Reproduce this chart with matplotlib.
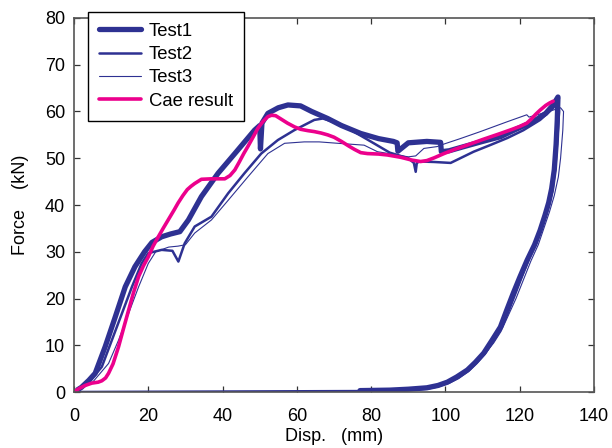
import matplotlib
matplotlib.use("Agg")
import matplotlib.pyplot as plt

plt.rcParams['font.family'] = ['Liberation Sans', 'DejaVu Sans']

# ---- data ----
test1_x = [1, 2, 4, 5.7, 8.4, 11, 13.8, 16.4, 19, 21, 23.6, 26, 28.5, 30.8, 34.3, 38.8, 43.3, 48.6, 50, 50.2,
           50.6, 52.2, 55, 57.6, 61, 64, 68.3, 72, 77.2, 82, 86, 87, 87.2, 90, 95, 98.7, 98.9, 101, 105, 110,
           114.8, 119, 123.6, 127, 129, 130.3,
           130.1, 129.8, 129.3, 128.6, 127.8, 126.8, 125.5, 124, 122, 120, 118.3, 116.5, 114.8, 112.5, 110.3,
           108, 105.9, 103, 100.5, 98, 95, 90, 85, 77]
test1_y = [0.5, 1, 2.5, 4, 9.7, 15.8, 22.5, 26.8, 30, 32, 33.2, 33.8, 34.3, 36.8, 41.8, 46.8, 51, 56, 57, 52,
           57.5, 59.6, 60.8, 61.4, 61.2, 60, 58.5, 57, 55.3, 54.2, 53.6, 53.3, 51.5, 53.3, 53.6, 53.4, 51.4,
           51.6, 52.5, 53.6, 54.6, 56.2, 57.8, 59.6, 61.4, 63.1,
           58, 53, 47.5, 43.5, 40.5, 37.8, 34.6, 31.5, 28.2, 24.5, 21.2, 17.5, 13.9, 11, 8.3,
           6.3, 4.7, 3.2, 2.1, 1.4, 0.9, 0.6, 0.4, 0.3]

test2_x = [1, 2, 3.9, 7.5, 10.2, 12.9, 15.6, 18.2, 20, 23.6, 26.5, 28.1, 29.8, 32.5, 37, 41.5, 45.9, 50.4,
           54.9, 59.3, 64.7, 67, 72, 79, 85, 90, 91.5, 92, 92.3, 93, 97, 101.4, 107.6, 112, 116.6, 121, 125.5,
           129, 130.4,
           130.6, 130.2, 129.6, 128.8, 127.5, 126, 124.5, 122.5, 120.5, 118.8, 117, 115.2, 113, 110.8, 108.5,
           106.3, 103.5, 101, 98, 95, 90, 77, 40, 0]
test2_y = [0.5, 1, 1.9, 5.4, 11.1, 16.8, 22.5, 27.5, 29.7, 30.4, 30.2, 27.9, 31.8, 35.4, 37.5, 42.5, 46.8, 51,
           53.9, 56, 58.2, 58.5, 57.2, 54, 51.2, 50, 49, 47.1, 49, 49.3, 49.2, 49, 51.4, 52.8, 54.3, 56, 58.2,
           60.7, 62.5,
           60, 55, 48, 43, 39, 35.5, 32, 28.5, 24.5, 21, 17.3, 13.8, 11, 8.4, 6.3,
           4.6, 3, 2, 1.2, 0.7, 0.4, 0.2, 0.1, 0]

test3_x = [1, 2, 4.8, 9.3, 12, 14.7, 17.4, 20, 22, 25.5, 28, 30, 32.5, 37, 41.5, 46.8, 52.2, 56.7, 62, 66, 71,
           78.1, 81.7, 87, 90, 92, 94.2, 97.8, 98.7, 104, 109.4, 116.6, 121.9, 122.5, 126, 129, 131,
           131.8, 131.6, 131, 130.4, 129.3, 128, 126.5, 125, 123, 121, 119, 117, 115, 113, 110.5, 108, 105.5,
           103, 100, 97, 92, 85, 78]
test3_y = [0.5, 1, 1.9, 6.1, 11.1, 16.8, 22.5, 27.5, 30, 31, 31.2, 31.5, 34, 36.8, 41, 46, 51, 53.2, 53.5, 53.5,
           53.2, 52.8, 51.4, 50.7, 50.3, 50.5, 52.1, 52.5, 52.8, 54.2, 55.7, 57.8, 59.3, 58.8, 59.6, 60.3, 60.8,
           60, 56, 50, 46, 42, 38.5, 35, 31.5, 28, 24, 20, 16.5, 13, 10.5, 8, 6, 4.3,
           3, 1.8, 1, 0.5, 0.3, 0.2]

cae_x = [0.5, 1.5, 3, 4.8, 6.5, 7.5, 8.5, 9.3, 10.5, 12, 13.3, 14.7, 16, 17.4, 18.7, 20, 21.3, 22.7, 24, 25.5,
         27, 28, 29.3, 30.5, 31.5, 32.5, 34.3, 37, 40.6, 42, 43.3, 44.5, 45.7, 46.8, 48.2, 49.5, 50.8, 52.2,
         53.2, 54.3, 55.5, 57.5, 59.4, 61, 63, 64.7, 66.5, 68.3, 70, 72, 74, 75.5, 77.2, 79, 82, 84.4, 88, 91,
         93.3, 95, 97, 99.6, 102.5, 105.8, 110, 114.8, 118, 120, 121.9, 123, 124.3, 125.5, 127, 128, 129]
cae_y = [0.3, 0.8, 1.4, 1.9, 2.1, 2.4, 3, 4, 6, 9.7, 13.5, 17.5, 21.2, 24.7, 27, 28.9, 31.2, 33.2, 35, 37,
         39, 40.4, 42, 43.3, 44, 44.6, 45.5, 45.6, 45.6, 46.3, 47.5, 49.2, 51, 52.5, 54.5, 56.4, 57.8, 58.9,
         59.2, 59.1, 58.5, 57.5, 56.7, 56.2, 55.9, 55.7, 55.4, 55, 54.5, 53.6, 52.6, 51.9, 51.2, 51, 50.9,
         50.7, 50.2, 49.6, 49.3, 49.5, 50.1, 51, 51.9, 52.8, 54, 55.3, 56.2, 56.8, 57.5, 58.3, 59.4, 60.3,
         61.3, 61.8, 62.2]

labels = ["Test1", "Test2", "Test3", "Cae result"]
x_ticks = [0, 20, 40, 60, 80, 100, 120, 140]
y_ticks = [0, 10, 20, 30, 40, 50, 60, 70, 80]

blue = "#2E3192"
pink = "#EC008C"

fig = plt.figure(figsize=(6.12, 4.48), dpi=100)
ax = fig.add_axes([74 / 612, 1 - 392 / 448, (594 - 74) / 612, (392 - 18) / 448])

rnd = dict(solid_capstyle='round', solid_joinstyle='round')
ax.plot(test1_x, test1_y, color=blue, lw=3.8, label=labels[0], **rnd)
ax.plot(test2_x, test2_y, color=blue, lw=1.8, label=labels[1], **rnd)
ax.plot(test3_x, test3_y, color=blue, lw=0.8, label=labels[2], **rnd)
ax.plot(cae_x, cae_y, color=pink, lw=2.6, label=labels[3], **rnd)

ax.set_xlim(0, 140)
ax.set_ylim(0, 80)
ax.set_xticks(x_ticks)
ax.set_yticks(y_ticks)
ax.tick_params(direction='in', top=True, right=True, length=4, width=0.9, color='#333333',
               labelsize=13)
ax.tick_params(axis='x', pad=11.5)
ax.tick_params(axis='y', pad=6.5)
for s in ax.spines.values():
    s.set_color('#555555')
    s.set_linewidth(1.2)

ax.set_xlabel("Disp.   (mm)", fontsize=13, labelpad=2.5)
ax.set_ylabel("Force    (kN)", fontsize=13, labelpad=11)

leg = ax.legend(loc='upper left', bbox_to_anchor=(87.5 / 612, 1 - 11.7 / 448), bbox_transform=fig.transFigure,
                borderaxespad=0, fancybox=False, frameon=True, fontsize=13.3, handlelength=2.3,
                handletextpad=0.42, labelspacing=0.34, borderpad=0.6)
leg.get_frame().set_edgecolor('black')
leg.get_frame().set_linewidth(1.0)
leg.get_frame().set_alpha(1)
leg.set_zorder(5)

fig.savefig("out.png", dpi=100)
